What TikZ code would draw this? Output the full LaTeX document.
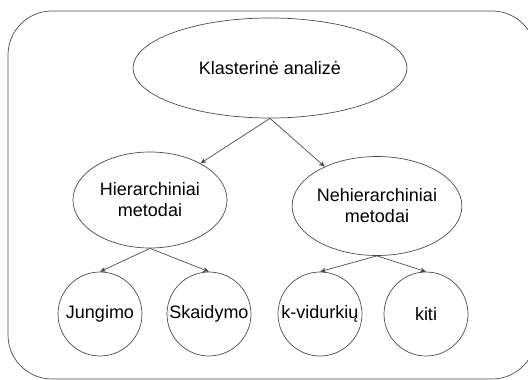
\documentclass[tikz,border=0pt]{standalone}
\usepackage{fontspec}
\setmainfont{Liberation Sans}
\usetikzlibrary{shapes.geometric,arrows.meta}
\begin{document}
\begin{tikzpicture}[x=1pt,y=-1pt,
  line/.style={draw=black!70,line width=0.7pt},
  oval/.style={line,ellipse,inner sep=0pt,align=center,font=\fontsize{18}{21}\selectfont},
  leaf/.style={line,circle,inner sep=0pt,minimum size=84pt,font=\fontsize{18}{21}\selectfont},
  link/.style={line,-{Stealth[length=6pt,width=5pt]}}]
\useasboundingbox (0,0) rectangle (528,380);
% frame (its right side runs past the page edge)
\begin{scope}
\clip (0,0) rectangle (528,380);
\draw[line,rounded corners=44pt] (8,11) rectangle (536,379);
\end{scope}
% nodes
\node[oval,minimum width=274pt,minimum height=100pt] (root) at (270,68) {Klasterinė analizė};
\node[oval,minimum width=154pt,minimum height=96pt] (hier) at (150,200) {Hierarchiniai\\metodai};
\node[oval,minimum width=150pt,minimum height=99pt] (nonh) at (377,206) {Nehierarchiniai\\metodai};
\node[leaf] (jung) at (100,314) {Jungimo};
\node[leaf] (skai) at (209,314) {Skaidymo};
\node[leaf] (kvid) at (320,314) {k-vidurkių};
\node[leaf] (kiti) at (426,314) {kiti};
% connectors
\draw[link] (root.south) -- (hier.36);
\draw[link] (root.south) -- (nonh.143);
\draw[link] (hier.south) -- (jung.north);
\draw[link] (hier.south) -- (skai.north);
\draw[link] (nonh.south) -- (kvid.north);
\draw[link] (nonh.south) -- (kiti.north);
\end{tikzpicture}
\end{document}
